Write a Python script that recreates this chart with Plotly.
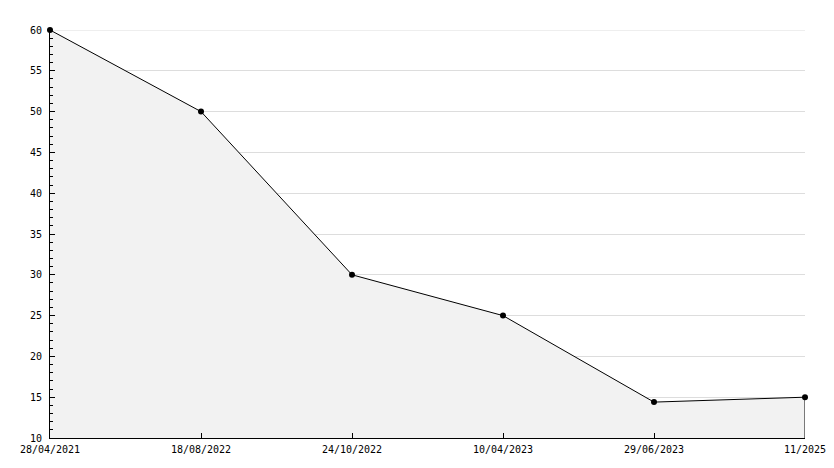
import plotly.graph_objects as go

dates = ["28/04/2021", "18/08/2022", "24/10/2022", "10/04/2023", "29/06/2023", "11/2025"]
values = [60, 50, 30, 25, 14.4, 15]
y_min, y_max = 10, 60

xs = list(range(len(dates)))

fig = go.Figure()
fig.add_trace(go.Scatter(
    x=xs, y=values, mode="lines+markers",
    fill="tozeroy", fillcolor="#f2f2f2",
    line=dict(color="black", width=1),
    marker=dict(color="black", size=6, symbol="circle"),
    cliponaxis=False,
    hoverinfo="x+y", showlegend=False,
))
fig.add_trace(go.Scatter(
    x=[xs[-1], xs[-1]], y=[y_min, values[-1]], mode="lines",
    line=dict(color="black", width=1), showlegend=False, hoverinfo="skip",
))

fig.add_shape(type="line", xref="paper", x0=0, x1=1, yref="y", y0=y_max, y1=y_max,
              line=dict(color="#dddddd", width=1), layer="below")

fig.update_layout(
    width=826, height=460,
    margin=dict(l=42, r=29, t=22, b=30),
    paper_bgcolor="white", plot_bgcolor="white",
    font=dict(family="DejaVu Sans Mono", size=10, color="black"),
)
fig.update_xaxes(
    range=[0, len(dates) - 1], tickvals=xs, ticktext=dates, automargin=False,
    showgrid=False, zeroline=False, showline=True, linecolor="black", linewidth=1,
    ticks="inside", ticklen=5, tickcolor="black", ticklabelstandoff=2,
)
fig.update_yaxes(
    range=[y_min, y_max], dtick=5, tick0=0, automargin=False,
    showgrid=True, gridcolor="#dddddd", gridwidth=1,
    zeroline=False, showline=True, linecolor="black", linewidth=1,
    ticks="inside", ticklen=5, tickcolor="black", ticklabelstandoff=5,
    minor=dict(dtick=1, ticks="inside", ticklen=3, tickcolor="black", showgrid=False),
)

fig.write_html("out.html")
